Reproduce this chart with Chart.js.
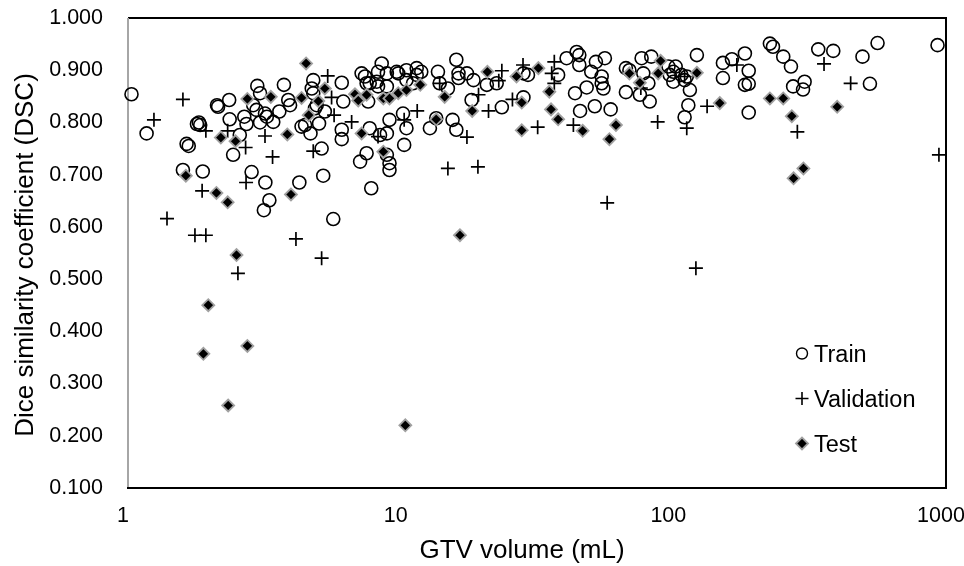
<!DOCTYPE html>
<html>
<head>
<meta charset="utf-8">
<script src="https://cdn.jsdelivr.net/npm/chart.js@4/dist/chart.umd.min.js"></script>
<style>
  html, body { margin: 0; padding: 0; background: #ffffff; }
  #wrap { width: 964px; height: 566px; }
</style>
</head>
<body>
<div id="wrap"><canvas id="dsc" width="964" height="566"></canvas></div>
<script>
// GTV volume (mL) and Dice similarity coefficient per case, by cohort
const trainVolume = [
  1.03, 1.17, 1.59, 1.64, 1.67, 1.79, 1.82, 1.84, 1.88, 2.12, 2.14, 2.35, 2.36, 2.43, 2.57, 2.67,
  2.72, 2.84, 2.88, 2.96, 2.98, 3.05, 3.05, 3.15, 3.18, 3.19, 3.23, 3.30, 3.41, 3.59, 3.73, 3.87,
  3.93, 4.25, 4.33, 4.46, 4.67, 4.72, 4.78, 4.78, 4.85, 4.92, 5.02, 5.13, 5.20, 5.27, 5.66, 6.08,
  6.16, 6.08, 6.08,
  7.19, 7.4, 7.5, 7.7, 7.6, 8.52, 8.26, 8.17, 8.9, 9.67, 9.8, 10.5, 11.45, 11.9, 11.45, 11.1,
  13.7, 16.0, 16.3, 16.3, 13.9, 14.9, 7.7, 8.4, 8.9, 9.1, 10.2, 10.3, 10.5, 12.8, 13.5, 15.5,
  16.0, 7.1, 7.5, 8.9, 9.1, 9.1, 7.8, 8.26, 8.9, 10.5,
  17.5, 18.5, 18.2, 20.7, 22.5, 23.5, 28.2, 28.2, 29.3, 37.8, 40.6, 44.2, 45.2, 45.2, 43.6, 45.5,
  48.1, 50.0, 52.0, 56.1, 54.6, 54.6, 55.4, 51.5, 58.9, 67, 69, 67,
  76.5, 83.0, 77.6, 81.0, 75.4, 81.9, 96, 102, 100, 97, 100, 107, 112, 110, 115, 113.5,
  110, 122, 152, 164, 152, 183, 189, 183, 189, 189, 226, 232, 253, 270, 275, 299,
  303, 340, 386, 494, 526, 561, 931
];
const trainDsc = [
  0.854, 0.779, 0.709, 0.759, 0.755, 0.797, 0.800, 0.795, 0.706, 0.833, 0.830, 0.843, 0.806, 0.738, 0.776, 0.811,
  0.797, 0.705, 0.833, 0.824, 0.870, 0.856, 0.800, 0.632, 0.817, 0.685, 0.811, 0.651, 0.801, 0.821, 0.872, 0.843,
  0.833, 0.685, 0.792, 0.795, 0.779, 0.865, 0.881, 0.856, 0.827, 0.833, 0.798, 0.750, 0.698, 0.821, 0.615, 0.876,
  0.840, 0.786, 0.768,
  0.894, 0.888, 0.875, 0.875, 0.840, 0.913, 0.897, 0.878, 0.894, 0.897, 0.894, 0.900, 0.904, 0.897, 0.891, 0.875,
  0.897, 0.920, 0.894, 0.885, 0.875, 0.865, 0.789, 0.776, 0.779, 0.805, 0.817, 0.757, 0.789, 0.789, 0.808, 0.805,
  0.786, 0.725, 0.741, 0.738, 0.722, 0.709, 0.674, 0.869, 0.869, 0.881,
  0.894, 0.881, 0.843, 0.872, 0.875, 0.829, 0.848, 0.894, 0.891, 0.891, 0.923, 0.935, 0.929, 0.910, 0.856, 0.822,
  0.867, 0.897, 0.916, 0.923, 0.888, 0.875, 0.865, 0.831, 0.825, 0.904, 0.900, 0.858,
  0.923, 0.926, 0.894, 0.875, 0.853, 0.840, 0.907, 0.907, 0.897, 0.891, 0.878, 0.891, 0.888, 0.881, 0.862, 0.833,
  0.810, 0.929, 0.914, 0.921, 0.885, 0.932, 0.899, 0.872, 0.874, 0.819, 0.951, 0.945, 0.926, 0.907, 0.869, 0.863,
  0.878, 0.940, 0.937, 0.926, 0.874, 0.952, 0.948
];

const validationVolume = [
  1.245, 1.59, 1.93, 1.87, 1.39, 1.76, 1.93, 2.53, 2.32, 2.70, 3.18, 2.71, 3.39, 4.13, 5.13, 4.78,
  5.4, 5.58, 5.7, 6.61, 8.26, 10.3, 11.5, 14.9, 13.9, 23.5, 22.9, 28.1, 36.6, 35.8, 36.6, 19.3,
  25.7, 21.0, 17.5, 31.8, 43.0, 19.2, 57.2, 110, 171, 133, 87.6, 112, 76, 121, 357, 447,
  285, 942
];
const validationDsc = [
  0.805, 0.844, 0.784, 0.669, 0.616, 0.584, 0.584, 0.511, 0.784, 0.752, 0.774, 0.685, 0.734, 0.577, 0.540, 0.745,
  0.889, 0.848, 0.814, 0.801, 0.773, 0.805, 0.822, 0.712, 0.875, 0.899, 0.880, 0.910, 0.916, 0.894, 0.875, 0.853,
  0.844, 0.822, 0.772, 0.791, 0.795, 0.715, 0.646, 0.888, 0.910, 0.831, 0.801, 0.789, 0.866, 0.521, 0.912, 0.875,
  0.782, 0.738
];

const testVolume = [
  1.63, 2.11, 2.32, 2.50, 2.19, 2.48, 2.74, 3.34, 3.84, 3.96, 4.50, 4.33, 4.6, 4.99, 5.27, 6.80,
  6.99, 7.5, 8.64, 9.1, 9.8, 10.5, 11.8, 14.5, 7.19, 8.64, 13.5, 16.5, 20.8, 26.6, 32.0, 27.8,
  18.3, 35.1, 35.6, 37.8, 46.5, 61.6, 58.3, 27.8, 69, 75.4, 88, 89.8, 122, 148, 226, 253,
  272, 399, 300, 276, 1.97, 1.89, 2.74, 2.33, 10.4
];
const testDsc = [
  0.698, 0.665, 0.647, 0.546, 0.771, 0.764, 0.845, 0.849, 0.777, 0.662, 0.913, 0.847, 0.814, 0.841, 0.865, 0.854,
  0.842, 0.853, 0.846, 0.846, 0.856, 0.862, 0.872, 0.849, 0.779, 0.744, 0.806, 0.584, 0.897, 0.888, 0.904, 0.838,
  0.822, 0.859, 0.825, 0.806, 0.784, 0.795, 0.768, 0.785, 0.894, 0.876, 0.894, 0.918, 0.895, 0.837, 0.846, 0.846,
  0.812, 0.830, 0.712, 0.693, 0.450, 0.357, 0.372, 0.258, 0.220
];

const seriesNames = ['Train', 'Validation', 'Test'];
const xTickValues = [1, 10, 100, 1000];
const yTickMin = 0.1;
const yTickMax = 1.0;
const yTickStep = 0.1;

const FONT = "'Liberation Sans', Arial, sans-serif";
const toPoints = (xs, ys) => xs.map((x, i) => ({ x: x, y: ys[i] }));

// Plot frame: grey value axis on the left, black border elsewhere
const framePlugin = {
  id: 'plotFrame',
  beforeDatasetsDraw(chart) {
    const { ctx, chartArea: a } = chart;
    ctx.save();
    ctx.lineWidth = 2;
    ctx.strokeStyle = '#000000';
    ctx.beginPath();
    ctx.moveTo(a.left, a.top);
    ctx.lineTo(a.right, a.top);
    ctx.lineTo(a.right, a.bottom);
    ctx.lineTo(a.left - 1, a.bottom);
    ctx.stroke();
    ctx.strokeStyle = '#a6a6a6';
    ctx.beginPath();
    ctx.moveTo(a.left, a.top);
    ctx.lineTo(a.left, a.bottom - 1);
    ctx.stroke();
    ctx.restore();
  }
};

// Axis titles
const titlePlugin = {
  id: 'axisTitles',
  afterDraw(chart) {
    const { ctx, chartArea: a } = chart;
    ctx.save();
    ctx.fillStyle = '#000000';
    ctx.font = '26px ' + FONT;
    ctx.textAlign = 'center';
    ctx.textBaseline = 'alphabetic';
    ctx.fillText('GTV volume (mL)', (a.left + a.right) / 2 - 15, 558);
    ctx.translate(33, (a.top + a.bottom) / 2 + 2);
    ctx.rotate(-Math.PI / 2);
    ctx.fillText('Dice similarity coefficient (DSC)', 0, 0);
    ctx.restore();
  }
};

// Legend inside the plot, lower right
const legendPlugin = {
  id: 'insetLegend',
  afterDraw(chart) {
    const { ctx, chartArea: a } = chart;
    const markerX = a.right - 144;
    const textX = a.right - 132;
    const firstBaseline = 362;
    const rowGap = 45;
    ctx.save();
    ctx.font = '23.5px ' + FONT;
    ctx.textAlign = 'left';
    ctx.textBaseline = 'alphabetic';
    chart.data.datasets.forEach((ds, i) => {
      const base = firstBaseline + i * rowGap;
      ctx.save();
      ctx.fillStyle = ds.pointBackgroundColor;
      ctx.strokeStyle = ds.pointBorderColor;
      ctx.lineWidth = ds.legendBorderWidth;
      Chart.helpers.drawPoint(ctx, {
        pointStyle: ds.pointStyle,
        radius: ds.legendRadius,
        rotation: 0,
        borderWidth: ds.legendBorderWidth
      }, markerX, base - 8.5);
      ctx.restore();
      ctx.fillStyle = '#000000';
      ctx.fillText(ds.label, textX, base);
    });
    ctx.restore();
  }
};

const ctx = document.getElementById('dsc').getContext('2d');
new Chart(ctx, {
  type: 'scatter',
  data: {
    datasets: [
      {
        label: seriesNames[0],
        data: toPoints(trainVolume, trainDsc),
        pointStyle: 'circle',
        pointRadius: 6.5,
        pointBorderWidth: 1.6,
        pointBorderColor: '#000000',
        pointBackgroundColor: 'rgba(0,0,0,0)',
        legendRadius: 5.5,
        legendBorderWidth: 1.4,
        order: 2,
        clip: false
      },
      {
        label: seriesNames[1],
        data: toPoints(validationVolume, validationDsc),
        pointStyle: 'cross',
        pointRadius: 7,
        pointBorderWidth: 1.7,
        pointBorderColor: '#000000',
        pointBackgroundColor: '#000000',
        legendRadius: 6.5,
        legendBorderWidth: 1.6,
        order: 1,
        clip: false
      },
      {
        label: seriesNames[2],
        data: toPoints(testVolume, testDsc),
        pointStyle: 'rectRot',
        pointRadius: 6,
        pointBorderWidth: 1.8,
        pointBorderColor: '#a0a0a0',
        pointBackgroundColor: '#000000',
        legendRadius: 6,
        legendBorderWidth: 1.8,
        order: 0,
        clip: false
      }
    ]
  },
  options: {
    responsive: false,
    animation: false,
    devicePixelRatio: 1,
    events: [],
    layout: { padding: { left: 0, right: 18, top: 18, bottom: 0 } },
    plugins: {
      legend: { display: false },
      tooltip: { enabled: false }
    },
    scales: {
      x: {
        type: 'logarithmic',
        min: xTickValues[0],
        max: xTickValues[xTickValues.length - 1],
        afterBuildTicks: (scale) => {
          scale.ticks = xTickValues.map(v => ({ value: v }));
        },
        ticks: {
          callback: (v) => String(v),
          font: { family: FONT, size: 21.5 },
          color: '#000000',
          padding: 15,
          maxRotation: 0,
          autoSkip: false,
          labelOffset: -5
        },
        grid: { display: false, drawTicks: false },
        border: { display: false },
        afterFit: (scale) => {
          scale.height = 78;
          scale.paddingLeft = 0;
          scale.paddingRight = 0;
        }
      },
      y: {
        min: yTickMin,
        max: yTickMax,
        ticks: {
          stepSize: yTickStep,
          callback: (v) => Number(v).toFixed(3),
          font: { family: FONT, size: 21.5 },
          color: '#000000',
          padding: 25
        },
        grid: { display: false, drawTicks: false },
        border: { display: false },
        afterFit: (scale) => {
          scale.width = 128;
          scale.paddingTop = 0;
          scale.paddingBottom = 0;
        }
      }
    }
  },
  plugins: [framePlugin, titlePlugin, legendPlugin]
});
</script>
</body>
</html>
